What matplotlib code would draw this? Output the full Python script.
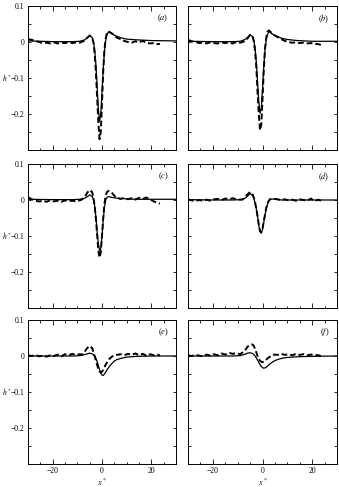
import matplotlib
matplotlib.use('Agg')
import matplotlib.pyplot as plt
from matplotlib.ticker import MultipleLocator
import matplotlib.transforms as mtransforms

plt.rcParams['font.family'] = ['Liberation Serif', 'DejaVu Serif']
plt.rcParams['mathtext.fontset'] = 'stix'

# x positions of the model curves (solid) and the measured profiles (dashed)
x_model = [-30, -20, -12, -9, -7, -6, -5, -4, -3.5, -3, -2.5, -2, -1.5, -1, -0.5,
           0, 0.5, 1, 1.5, 2, 2.5, 3, 4, 5, 6, 8, 10, 14, 20, 30]
x_meas = [-30, -28.5, -27, -25.5, -24, -22.5, -21, -19.5, -18, -16.5, -15, -13.5, -12, -10.5, -9,
          -8, -7, -6, -5, -4,
          -3.5, -3, -2.5, -2, -1.5, -1, -0.5, 0, 0.5, 1, 1.5, 2, 2.5, 3,
          4, 5, 6,
          7.5, 9, 10.5, 12, 13.5, 15, 16.5, 18, 19.5, 21, 22.5, 23.5]

# model h* values
model_a = [0.003, 0.001, 0.001, 0.002, 0.006, 0.011, 0.017, 0.013, 0.002, -0.02, -0.06, -0.12, -0.185, -0.22, -0.2,
           -0.14, -0.075, -0.025, 0.005, 0.02, 0.027, 0.027, 0.023, 0.019, 0.016, 0.011, 0.008, 0.006, 0.004, 0.003]
model_b = [0.002, 0.001, 0.001, 0.002, 0.007, 0.013, 0.02, 0.015, 0.004, -0.016, -0.055, -0.11, -0.165, -0.198, -0.185,
           -0.13, -0.07, -0.022, 0.006, 0.021, 0.028, 0.027, 0.022, 0.018, 0.015, 0.01, 0.007, 0.004, 0.002, 0.002]
model_c = [0.002, 0.001, 0.001, 0.002, 0.005, 0.009, 0.014, 0.01, 0.002, -0.015, -0.045, -0.085, -0.12, -0.14, -0.135,
           -0.1, -0.055, -0.02, 0.0, 0.007, 0.009, 0.009, 0.007, 0.006, 0.005, 0.004, 0.003, 0.002, 0.002, 0.002]
model_d = [0.001, 0.0, 0.0, 0.001, 0.005, 0.011, 0.018, 0.012, 0.005, -0.008, -0.025, -0.045, -0.07, -0.088, -0.092,
           -0.082, -0.062, -0.042, -0.024, -0.012, -0.004, 0.001, 0.003, 0.002, 0.001, 0.0, 0.0, 0.0, 0.0, 0.0]
model_e = [0.0, 0.0, 0.0, 0.001, 0.004, 0.006, 0.008, 0.006, 0.004, 0.0, -0.006, -0.015, -0.026, -0.038, -0.048,
           -0.053, -0.054, -0.05, -0.045, -0.039, -0.034, -0.029, -0.021, -0.014, -0.01, -0.006, -0.003, -0.001, 0.0, 0.0]
model_f = [0.0, 0.0, 0.0, 0.001, 0.005, 0.008, 0.009, 0.007, 0.004, 0.0, -0.005, -0.011, -0.018, -0.024, -0.029,
           -0.032, -0.034, -0.033, -0.031, -0.028, -0.025, -0.022, -0.017, -0.013, -0.01, -0.006, -0.004, -0.002, -0.001, 0.0]

# measured h* values
meas_a = [0.008, 0.006, 0.003, 0.0, -0.003, -0.002, -0.004, -0.001, -0.004, -0.002, -0.003, 0.0, -0.003, -0.001, -0.002,
          0.001, 0.004, 0.012, 0.018, 0.012,
          0.0, -0.03, -0.08, -0.15, -0.22, -0.27, -0.25, -0.17, -0.08, -0.02, 0.01, 0.026, 0.03, 0.028,
          0.024, 0.018, 0.012,
          0.008, 0.003, 0.0, -0.002, 0.002, -0.001, 0.003, -0.002, -0.004, -0.003, -0.006, -0.005]
meas_b = [0.006, 0.002, 0.0, -0.003, -0.002, -0.004, -0.001, -0.003, -0.004, -0.001, -0.003, -0.002, -0.004, 0.0, -0.002,
          0.0, 0.003, 0.01, 0.02, 0.016,
          0.002, -0.025, -0.07, -0.14, -0.2, -0.245, -0.23, -0.16, -0.08, -0.02, 0.012, 0.028, 0.032, 0.03,
          0.022, 0.018, 0.014,
          0.008, 0.003, 0.0, -0.002, -0.001, -0.003, -0.002, -0.004, -0.003, -0.005, -0.006, -0.008]
meas_c = [0.008, 0.002, -0.002, -0.004, -0.002, -0.005, -0.001, -0.004, -0.002, -0.005, -0.001, -0.003, -0.002, -0.004, -0.001,
          0.002, 0.008, 0.02, 0.028, 0.022,
          0.008, -0.015, -0.05, -0.095, -0.14, -0.16, -0.145, -0.1, -0.05, -0.01, 0.012, 0.022, 0.025, 0.025,
          0.02, 0.012, 0.006,
          0.003, 0.006, 0.002, 0.005, 0.001, 0.006, 0.003, 0.007, 0.002, -0.004, -0.008, -0.01]
meas_d = [0.002, -0.001, -0.003, 0.0, -0.002, 0.001, -0.002, 0.002, 0.003, 0.0, 0.004, 0.002, 0.005, 0.002, 0.001,
          0.001, 0.008, 0.016, 0.022, 0.016,
          0.007, -0.006, -0.024, -0.045, -0.068, -0.086, -0.09, -0.08, -0.06, -0.04, -0.022, -0.01, -0.002, 0.002,
          0.004, 0.003, 0.002,
          0.0, 0.002, -0.001, 0.001, -0.002, 0.002, 0.0, -0.002, 0.004, -0.003, 0.001, -0.002]
meas_e = [0.002, 0.0, 0.003, -0.001, 0.001, -0.002, 0.002, 0.0, 0.004, -0.001, 0.005, 0.002, 0.006, 0.003, 0.005,
          0.004, 0.012, 0.022, 0.028, 0.022,
          0.012, 0.0, -0.012, -0.024, -0.035, -0.043, -0.046, -0.044, -0.038, -0.031, -0.024, -0.018, -0.012, -0.008,
          -0.002, 0.002, 0.003,
          0.005, 0.002, 0.006, 0.003, 0.007, 0.002, 0.006, 0.001, 0.005, 0.002, 0.004, 0.001]
meas_f = [0.002, 0.0, 0.003, 0.001, -0.001, 0.004, 0.001, 0.005, 0.002, 0.007, 0.004, 0.009, 0.006, 0.008, 0.005,
          0.01, 0.016, 0.026, 0.031, 0.032,
          0.028, 0.02, 0.01, 0.0, -0.008, -0.013, -0.016, -0.017, -0.016, -0.013, -0.01, -0.007, -0.004, -0.002,
          0.002, 0.004, 0.003,
          0.006, 0.003, 0.005, 0.002, 0.006, 0.003, 0.005, 0.002, 0.004, 0.003, 0.002, 0.0]

panel_labels = ['a', 'b', 'c', 'd', 'e', 'f']
models = [model_a, model_b, model_c, model_d, model_e, model_f]
measured = [meas_a, meas_b, meas_c, meas_d, meas_e, meas_f]

W, H = 339, 487
fig = plt.figure(figsize=(W / 100, H / 100), dpi=100)

col_left = [28, 188]
col_width = [148, 149]
row_top = [6, 164, 320]
row_height = 144

for i in range(6):
    r, c = divmod(i, 2)
    rect = [col_left[c] / W, 1 - (row_top[r] + row_height) / H, col_width[c] / W, row_height / H]
    ax = fig.add_axes(rect)
    ax.plot(x_model, models[i], color='black', lw=0.9)
    ax.plot(x_meas, measured[i], color='black', lw=1.4, dashes=(3, 1.5))

    ax.set_xlim(-30, 30)
    ax.set_ylim(-0.3, 0.1)
    ax.xaxis.set_major_locator(MultipleLocator(20))
    ax.xaxis.set_minor_locator(MultipleLocator(5))
    ax.yaxis.set_major_locator(MultipleLocator(0.1))
    ax.yaxis.set_minor_locator(MultipleLocator(0.05))
    ax.tick_params(which='both', direction='in', top=True, right=True, width=0.6, labelsize=5.5)
    ax.tick_params(axis='x', which='major', length=3.6, pad=2.5)
    ax.tick_params(axis='x', which='minor', length=1.8)
    ax.tick_params(axis='y', which='major', length=2.2, pad=2.6)
    ax.tick_params(axis='y', which='minor', length=2.2)
    for s in ax.spines.values():
        s.set_linewidth(0.7)

    ax.set_yticks([0.1, 0, -0.1, -0.2])
    ax.set_yticklabels(['0.1', '0', '\u22120.1', '\u22120.2'])
    if c == 1:
        ax.set_yticklabels([])
    else:
        # h* sits left of the -0.1 tick label
        trans = mtransforms.blended_transform_factory(ax.transAxes, ax.transData)
        ax.text(-0.178, -0.1, '$h^*$', transform=trans, ha='left', va='center', fontsize=5.5)
    if r < 2:
        ax.set_xticklabels([])
    else:
        ax.set_xticks([-20, 0, 20])
        ax.set_xticklabels(['\u221220', '0', '20'])
        ax.set_xlabel('$x^*$', fontsize=6, labelpad=1)

    ax.text(0.95, 0.915, '(' + '$\\mathit{' + panel_labels[i] + '}$' + ')', transform=ax.transAxes,
            ha='right', va='center', fontsize=6)

fig.savefig('out.png', dpi=100)
